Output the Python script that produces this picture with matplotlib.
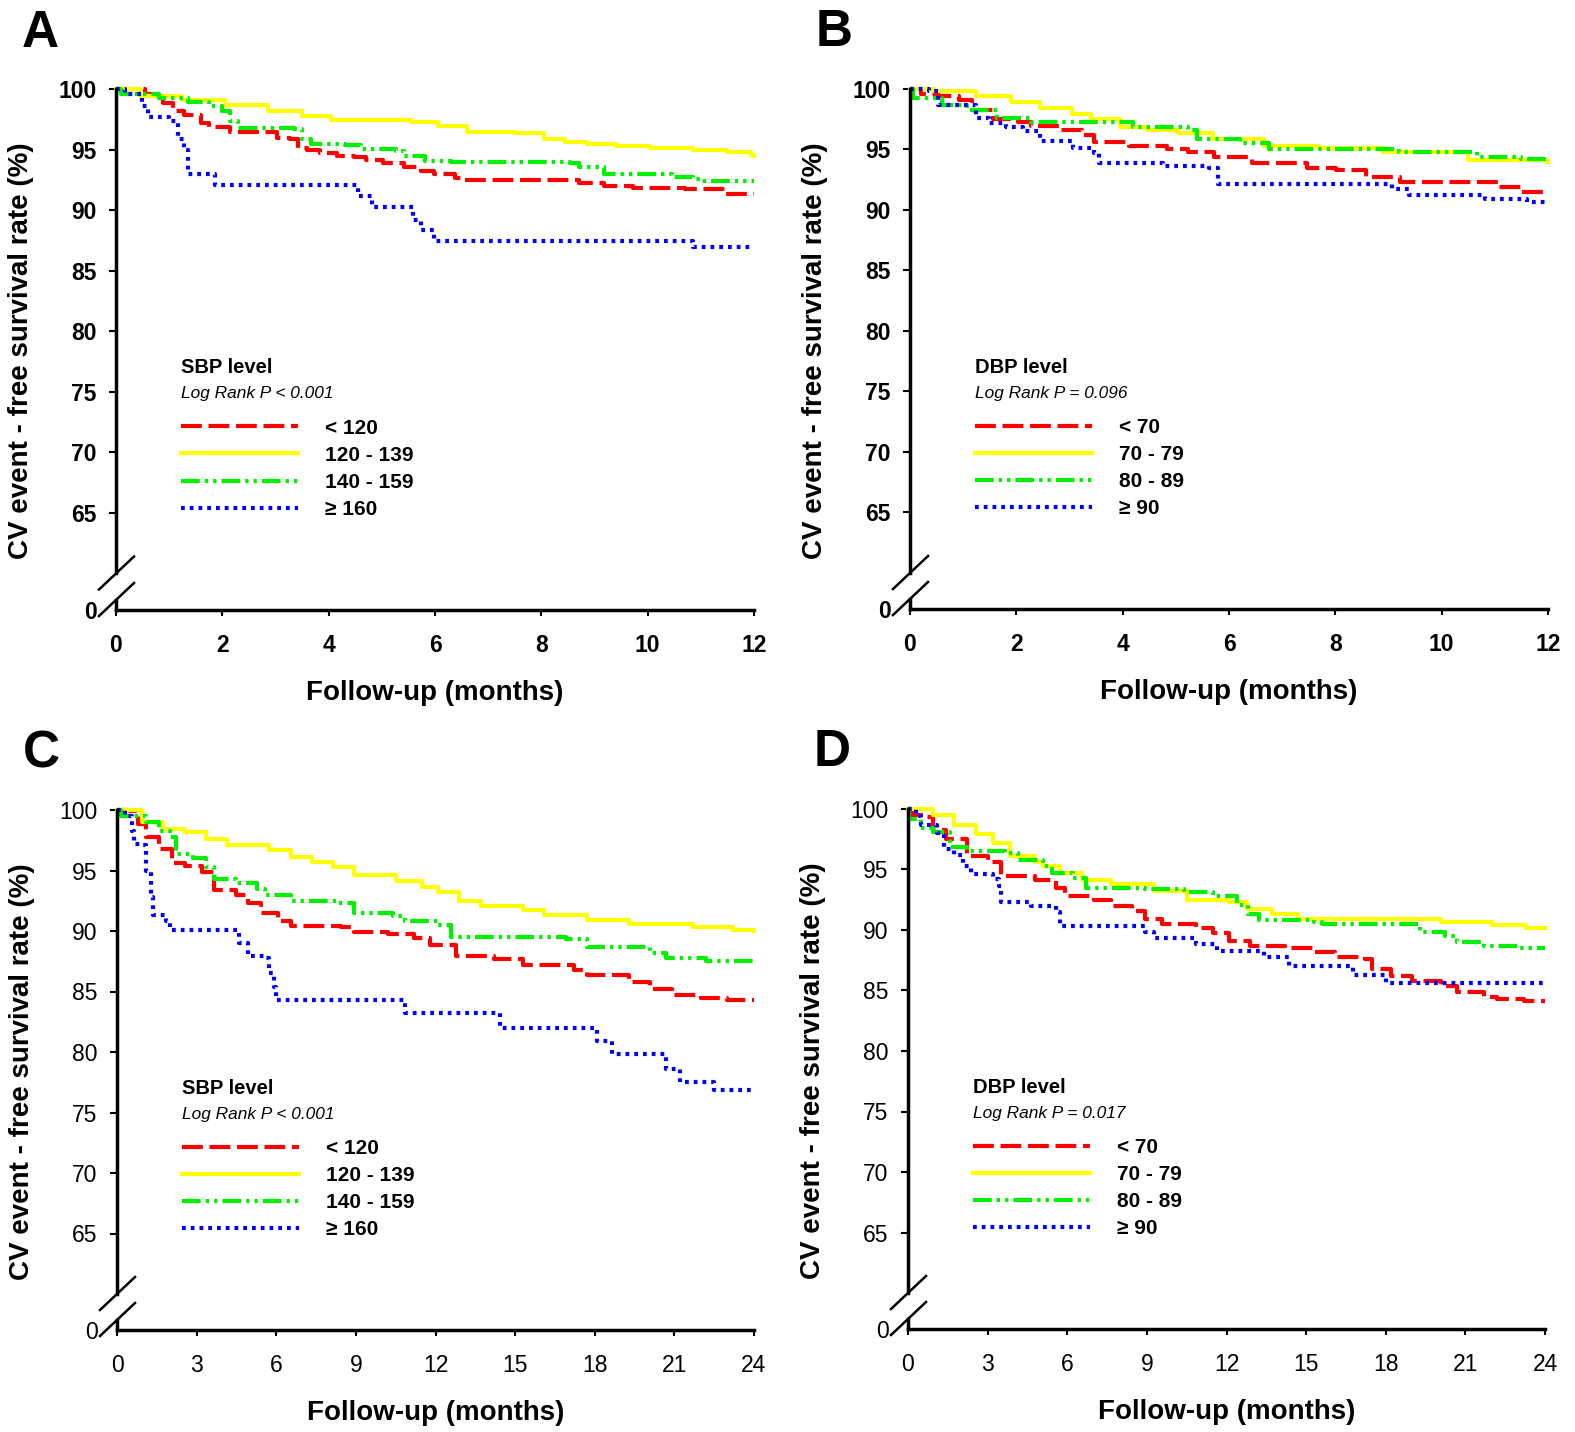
"""Kaplan-Meier style CV event-free survival curves by SBP / DBP level (4 panels)."""
import matplotlib
matplotlib.use("Agg")
import matplotlib.pyplot as plt
from matplotlib.lines import Line2D

plt.rcParams["font.family"] = ["Liberation Sans", "DejaVu Sans"]

W, H = 1575, 1432

# ---- data (months, survival %) ----
# Panel A: SBP, 12 months
a_red_t = [0, 0.55, 0.88, 1.08, 1.28, 1.6, 1.75, 2.15, 3.03, 3.27, 3.43, 3.59, 3.83, 4.15, 4.47,
           4.7, 5.02, 5.42, 5.74, 5.98, 6.38, 6.54, 8.7, 9.17, 9.73, 10.7, 11.45, 12]
a_red_s = [100, 99.6, 98.9, 98.2, 97.9, 97.2, 96.9, 96.5, 96.0, 95.9, 95.2, 95.0, 94.75, 94.5, 94.4,
           94.2, 93.9, 93.6, 93.3, 93.0, 92.7, 92.5, 92.3, 92.05, 91.9, 91.8, 91.4, 91.4]
a_yel_t = [0, 0.45, 1.25, 2.05, 2.85, 3.5, 4.05, 5.55, 6.05, 6.6, 7.5, 8.05, 8.45, 8.85, 9.4,
           10.05, 10.85, 11.5, 11.95, 12]
a_yel_s = [100, 99.45, 99.1, 98.7, 98.2, 97.8, 97.5, 97.3, 97.0, 96.5, 96.4, 95.9, 95.7, 95.5, 95.3,
           95.2, 95.0, 94.8, 94.6, 94.5]
a_grn_t = [0, 0.1, 0.8, 1.36, 1.75, 2.0, 2.15, 2.3, 3.35, 3.5, 3.67, 4.3, 4.6, 5.26, 5.42, 5.82,
           6.3, 8.53, 8.7, 9.17, 10.45, 10.85, 11.0, 12]
a_grn_s = [100, 99.6, 99.3, 99.0, 98.6, 98.2, 97.4, 96.8, 96.7, 95.9, 95.5, 95.4, 95.1, 94.9, 94.5,
           94.1, 94.0, 93.9, 93.6, 93.0, 92.8, 92.6, 92.4, 92.4]
a_blu_t = [0, 0.16, 0.48, 0.6, 1.0, 1.16, 1.28, 1.36, 1.87, 4.55, 4.82, 5.58, 5.74, 5.98, 10.85, 12]
a_blu_s = [100, 99.6, 98.6, 97.7, 97.4, 95.9, 95.0, 93.0, 92.1, 91.2, 90.3, 89.2, 88.4, 87.5, 87.0, 87.0]

# Panel B: DBP, 12 months
b_red_t = [0, 0.2, 0.52, 0.92, 1.16, 1.56, 2.04, 2.28, 2.83, 3.23, 3.47, 4.11, 4.83, 5.23, 5.71,
           6.43, 7.47, 8.02, 8.58, 9.22, 11.06, 11.5, 12]
b_red_s = [100, 99.6, 99.45, 99.05, 98.3, 97.5, 97.3, 96.95, 96.6, 96.2, 95.6, 95.25, 95.0, 94.8,
           94.4, 93.9, 93.5, 93.3, 92.75, 92.35, 91.9, 91.5, 91.5]
b_yel_t = [0, 0.45, 1.25, 1.9, 2.45, 3.05, 3.4, 3.95, 4.45, 5.05, 5.7, 6.65, 7.7, 8.9, 10.5, 12]
b_yel_s = [100, 99.8, 99.45, 98.9, 98.4, 97.9, 97.5, 96.9, 96.6, 96.35, 95.9, 95.3, 95.1, 94.8, 94.1, 94.0]
b_grn_t = [0, 0.05, 0.6, 1.08, 1.64, 2.28, 4.19, 5.23, 5.4, 6.2, 6.75, 9.2, 10.66, 11.5, 12]
b_grn_s = [100, 99.25, 98.7, 98.3, 97.6, 97.3, 96.9, 96.6, 95.85, 95.5, 95.0, 94.8, 94.4, 94.2, 94.2]
b_blu_t = [0, 0.36, 0.52, 1.24, 1.48, 1.8, 2.12, 2.44, 3.07, 3.47, 3.55, 4.75, 5.63, 5.79, 9.06,
           9.38, 10.82, 11.6, 12]
b_blu_s = [100, 99.8, 98.7, 97.6, 97.2, 96.9, 96.5, 95.7, 95.1, 94.75, 93.9, 93.6, 93.45, 92.15,
           91.7, 91.2, 90.95, 90.7, 90.7]

# Panel C: SBP, 24 months
c_red_t = [0, 0.5, 0.8, 1.1, 1.6, 2.07, 2.55, 3.19, 3.67, 4.47, 4.94, 5.42, 6.06, 6.54, 8.45, 8.93,
           10.2, 11.2, 11.8, 12.76, 14.2, 15.3, 17.2, 17.7, 19.3, 20.1, 20.9, 22.0, 23.0, 24]
c_red_s = [100, 99.9, 98.85, 97.75, 96.8, 95.6, 95.4, 94.9, 93.4, 92.95, 92.3, 91.45, 90.8, 90.4,
           90.3, 89.9, 89.75, 89.4, 88.85, 87.9, 87.7, 87.2, 86.8, 86.4, 85.8, 85.2, 84.7, 84.5, 84.3, 84.3]
c_yel_t = [0, 0.96, 1.75, 2.55, 3.35, 4.15, 5.74, 6.54, 7.34, 8.13, 8.93, 10.5, 11.5, 12.1, 12.9,
           13.7, 15.3, 16.1, 17.7, 19.3, 21.7, 23.2, 24]
c_yel_s = [100, 99.0, 98.4, 98.2, 97.6, 97.1, 96.7, 96.1, 95.7, 95.3, 94.6, 94.1, 93.6, 93.2, 92.5,
           92.1, 91.7, 91.3, 90.9, 90.6, 90.3, 90.1, 90.0]
c_grn_t = [0, 0.16, 1.1, 1.6, 2.0, 2.23, 2.87, 3.35, 3.67, 4.47, 5.26, 5.58, 6.54, 8.3, 8.93, 10.4,
           10.85, 12.1, 12.6, 16.9, 17.7, 20.1, 20.7, 22.2, 24]
c_grn_s = [100, 99.5, 99.0, 98.3, 97.75, 96.4, 96.05, 95.3, 94.3, 94.0, 93.5, 92.95, 92.5, 92.3,
           91.45, 91.2, 90.8, 90.5, 89.5, 89.3, 88.7, 88.2, 87.75, 87.5, 87.5]
c_blu_t = [0, 0.32, 0.56, 0.64, 0.96, 1.1, 1.28, 1.35, 1.83, 2.0, 4.6, 4.94, 5.58, 5.74, 5.9, 5.98,
           10.84, 14.43, 18.1, 18.66, 20.7, 21.2, 22.5, 24]
c_blu_s = [100, 99.5, 98.3, 97.2, 97.1, 95.0, 92.8, 91.3, 90.8, 90.1, 89.0, 87.95, 87.75, 86.5,
           85.4, 84.3, 83.2, 82.0, 80.9, 79.8, 78.6, 77.5, 76.9, 76.9]

# Panel D: DBP, 24 months
d_red_t = [0, 0.16, 0.64, 0.96, 1.44, 2.23, 3.03, 3.5, 4.78, 5.58, 5.9, 7.0, 7.66, 8.45, 8.93, 9.57,
           10.85, 11.5, 12.1, 12.9, 14.2, 15.3, 16.1, 17.2, 17.5, 18.2, 19.0, 20.1, 20.7, 21.7, 22.2,
           23.2, 24]
d_red_s = [100, 99.5, 99.3, 98.3, 97.5, 96.1, 95.6, 94.5, 94.1, 93.5, 92.8, 92.5, 92.0, 91.6, 90.9,
           90.5, 90.2, 89.75, 89.1, 88.7, 88.5, 88.2, 87.8, 87.6, 86.8, 86.2, 85.8, 85.4, 84.9, 84.5,
           84.3, 84.1, 84.1]
d_yel_t = [0, 0.96, 1.75, 2.55, 3.19, 3.83, 4.78, 5.1, 5.74, 6.54, 7.66, 9.25, 10.5, 12.1, 12.76,
           13.7, 14.7, 20.1, 22.0, 23.3, 24]
d_yel_s = [100, 99.5, 98.7, 97.9, 97.2, 96.1, 95.6, 95.3, 94.7, 94.1, 93.8, 93.2, 92.5, 92.3, 91.7,
           91.3, 90.9, 90.7, 90.4, 90.2, 90.2]
d_grn_t = [0, 0.05, 0.48, 0.96, 1.6, 2.23, 3.67, 4.15, 5.1, 5.42, 6.22, 6.7, 8.93, 10.4, 11.5, 12.4,
           12.8, 13.24, 15.3, 15.6, 19.3, 20.25, 20.7, 21.7, 23.0, 24]
d_grn_s = [100, 99.2, 98.4, 98.1, 96.9, 96.5, 96.4, 95.8, 95.3, 94.7, 94.3, 93.5, 93.4, 93.1, 92.8,
           92.1, 91.3, 90.85, 90.7, 90.5, 89.8, 89.5, 89.0, 88.7, 88.5, 88.5]
d_blu_t = [0, 0.32, 0.48, 1.1, 1.36, 1.75, 2.07, 2.39, 3.19, 3.43, 3.5, 4.63, 5.58, 5.74, 8.93, 9.25,
           10.85, 11.64, 13.4, 14.35, 16.75, 18.0, 24]
d_blu_s = [100, 99.4, 98.7, 98.0, 96.7, 96.2, 95.3, 94.6, 94.2, 93.6, 92.3, 92.0, 91.45, 90.35, 89.8,
           89.3, 88.85, 88.3, 87.75, 87.0, 86.25, 85.6, 85.5]

sbp_labels = ["< 120", "120 - 139", "140 - 159", "\u2265 160"]
dbp_labels = ["< 70", "70 - 79", "80 - 89", "\u2265 90"]
y_ticks = [65, 70, 75, 80, 85, 90, 95, 100]
x_ticks_12 = [0, 2, 4, 6, 8, 10, 12]
x_ticks_24 = [0, 3, 6, 9, 12, 15, 18, 21, 24]

STYLES = [
    dict(color="#FF0000", ls=(0, (5, 1.6))),
    dict(color="#FFFF00", ls="-"),
    dict(color="#00F000", ls=(0, (4.5, 1.2, 0.8, 1.2, 0.8, 1.2))),
    dict(color="#0000FF", ls=(0, (0.9, 1.2))),
]
PX_PER_UNIT = 12.1


def fx(px):
    return px / W


def fy(py):
    return 1 - py / H


def panel(letter, x0, x1, y100, y0, curves, labels, title, pval, xmax, xticks, bold):
    wt = "bold" if bold else "normal"
    y60 = y100 + 40 * PX_PER_UNIT
    ax = fig.add_axes([fx(x0), fy(y60), fx(x1 - x0), (y60 - y100) / H])
    axb = fig.add_axes([fx(x0), fy(y0), fx(x1 - x0), 10 / H])

    for (t, s), st in zip(curves, STYLES):
        ax.step(t, s, where="post", lw=3, clip_on=False, **st)

    ax.set_xlim(0, xmax)
    axb.set_xlim(0, xmax)
    ax.set_ylim(60, 100)
    axb.set_ylim(0, 1)
    for a in (ax, axb):
        a.spines["top"].set_visible(False)
        a.spines["right"].set_visible(False)
        a.spines["left"].set_linewidth(2.5)
        a.spines["bottom"].set_linewidth(2.5)
    ax.spines["bottom"].set_visible(False)
    ax.tick_params(axis="x", bottom=False, labelbottom=False)
    ax.set_yticks(y_ticks)
    ax.tick_params(axis="y", direction="out", length=5, width=1.5, pad=9, labelsize=16.5)
    axb.set_yticks([0])
    axb.tick_params(axis="y", length=0, pad=14, labelsize=16.5)
    axb.set_xticks(xticks)
    axb.tick_params(axis="x", direction="out", length=4.5, width=1.5, pad=13, labelsize=16.5)
    for lab in ax.get_yticklabels() + axb.get_yticklabels() + axb.get_xticklabels():
        lab.set_fontweight(wt)

    ax.set_ylabel("CV event - free survival rate (%)", fontsize=20, fontweight="bold")
    ax.yaxis.set_label_coords(-0.1285, 0.46)
    axb.set_xlabel("Follow-up (months)", fontsize=20, fontweight="bold")
    axb.xaxis.set_label_coords(0.5, -7.0)

    # legend block
    tr = ax.get_yaxis_transform()
    ax.text(0.102, 77.0, title, transform=tr, fontsize=14.5, fontweight="bold", va="center")
    ax.text(0.102, 74.85, pval, transform=tr, fontsize=12.4, fontstyle="italic", va="center")
    handles = [Line2D([], [], lw=3, **st) for st in STYLES]
    ax.legend(handles, labels, loc="upper left", bbox_to_anchor=(0.102, 72.8),
              bbox_transform=tr, frameon=False, borderpad=0, borderaxespad=0,
              handlelength=5.6, handletextpad=1.3, labelspacing=0.39,
              prop=dict(weight="bold", size=15))

    # axis break marks
    for yc in (y60, y0 - 10):
        fig.add_artist(Line2D([fx(x0 - 17), fx(x0 + 18)], [fy(yc + 16), fy(yc - 17)],
                              transform=fig.transFigure, color="black", lw=1.8))

    fig.text(fx(x0 - 76), fy(y100 - 56), letter, fontsize=37, fontweight="bold",
             ha="center", va="center")


fig = plt.figure(figsize=(W / 100, H / 100), dpi=100)

panel("A", 116, 754, 89.5, 610,
      [(a_red_t, a_red_s), (a_yel_t, a_yel_s), (a_grn_t, a_grn_s), (a_blu_t, a_blu_s)],
      sbp_labels, "SBP level", "Log Rank P < 0.001", 12, x_ticks_12, True)
panel("B", 910, 1548, 89, 609,
      [(b_red_t, b_red_s), (b_yel_t, b_yel_s), (b_grn_t, b_grn_s), (b_blu_t, b_blu_s)],
      dbp_labels, "DBP level", "Log Rank P = 0.096", 12, x_ticks_12, True)
panel("C", 117, 754, 810, 1330,
      [(c_red_t, c_red_s), (c_yel_t, c_yel_s), (c_grn_t, c_grn_s), (c_blu_t, c_blu_s)],
      sbp_labels, "SBP level", "Log Rank P < 0.001", 24, x_ticks_24, False)
panel("D", 908, 1545, 809, 1329,
      [(d_red_t, d_red_s), (d_yel_t, d_yel_s), (d_grn_t, d_grn_s), (d_blu_t, d_blu_s)],
      dbp_labels, "DBP level", "Log Rank P = 0.017", 24, x_ticks_24, False)

fig.savefig("out.png", dpi=100)
